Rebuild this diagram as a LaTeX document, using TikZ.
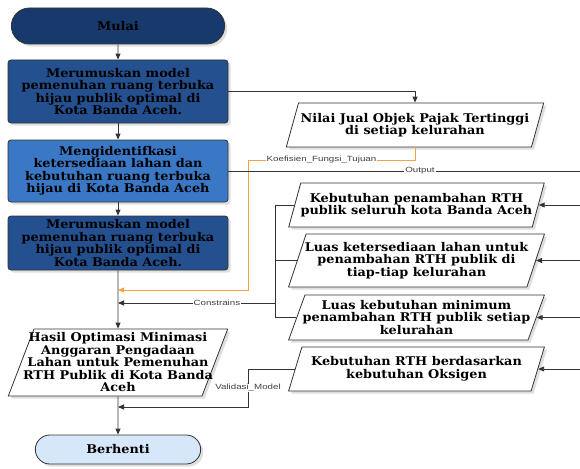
\documentclass[tikz,border=0pt]{standalone}
\usepackage{fontspec}
\setmainfont{DejaVu Serif}[FakeStretch=1.07]
\newfontfamily\lblfont{Liberation Sans}[FakeStretch=1.3]
\usetikzlibrary{shapes.geometric,shapes.misc,arrows.meta,shadows}

\definecolor{navy}{HTML}{17396B}
\definecolor{midblue}{HTML}{24508F}
\definecolor{lightblue}{HTML}{3A78C6}
\definecolor{paleblue}{HTML}{D6E7FA}
\definecolor{lineorange}{HTML}{F5A445}
\definecolor{edge}{HTML}{333333}

\tikzset{
  boxfont/.style={font=\bfseries\fontsize{12}{12.5}\selectfont},
  terminal/.style={rounded rectangle, draw=edge, line width=0.8pt, fill=navy, boxfont,
    minimum width=220pt, minimum height=36pt, drop shadow={opacity=0.25}},
  process/.style={rectangle, rounded corners=3pt, draw=edge, line width=0.8pt, boxfont,
    minimum width=220pt, align=center, inner sep=1pt, drop shadow={opacity=0.25}},
  data/.style={trapezium, trapezium left angle=68, trapezium right angle=112,
    trapezium stretches=true, draw=edge, line width=0.8pt, fill=white, boxfont,
    align=center, inner xsep=-14pt, inner ysep=1pt, drop shadow={opacity=0.25}},
  flow/.style={-{Triangle[length=6pt,width=5pt]}, line width=0.9pt, draw=edge},
  lbl/.style={fill=white, font=\lblfont\fontsize{7.5}{8}\selectfont, inner sep=1pt, text=black!75}
}

\begin{document}
\begin{tikzpicture}[x=1pt,y=-1pt]
    \useasboundingbox (0,0) rectangle (580,468);

    %alur utama kiri
    \node[terminal] (mulai) at (118,26) {Mulai};
    \node[process, fill=midblue, minimum height=63pt] (rumus1) at (118,91.5)
        {Merumuskan model\\pemenuhan ruang terbuka\\hijau publik optimal di\\Kota Banda Aceh.};
    \node[process, fill=lightblue, minimum height=62pt] (identifikasi) at (118,171)
        {Mengidentifkasi\\ketersediaan lahan dan\\kebutuhan ruang terbuka\\hijau di Kota Banda Aceh};
    \node[process, fill=midblue, minimum height=54pt] (rumus2) at (118,243)
        {Merumuskan model\\pemenuhan ruang terbuka\\hijau publik optimal di\\Kota Banda Aceh.};
    \node[data, minimum width=220pt, minimum height=67pt] (hasil) at (118,362.5)
        {Hasil Optimasi Minimasi\\Anggaran Pengadaan\\Lahan untuk Pemenuhan\\RTH Publik di Kota Banda\\Aceh};
    \node[terminal, fill=paleblue, minimum width=172pt, minimum height=29pt] (berhenti) at (118,449.5) {Berhenti};

    %data kanan
    \node[data, minimum width=258pt, minimum height=44pt] (nilai) at (415,125)
        {Nilai Jual Objek Pajak Tertinggi\\di setiap kelurahan};
    \node[data, minimum width=256pt, minimum height=44pt] (kp) at (416.5,205)
        {Kebutuhan penambahan RTH\\publik seluruh kota Banda Aceh};
    \node[data, minimum width=256pt, minimum height=53pt] (lk) at (416.5,260.5)
        {Luas ketersediaan lahan untuk\\penambahan RTH publik di\\tiap-tiap kelurahan};
    \node[data, minimum width=256pt, minimum height=45pt] (lm) at (416.5,317.5)
        {Luas kebutuhan minimum\\penambahan RTH publik setiap\\kelurahan};
    \node[data, minimum width=256pt, minimum height=44pt] (ok) at (416.5,369)
        {Kebutuhan RTH berdasarkan\\kebutuhan Oksigen};

    %titik bantu
    \coordinate (rgt) at (580,0);
    \coordinate (bx) at (275,0);
    \coordinate (vx) at (248,0);
    \coordinate (oy) at (248,160);
    \coordinate (j1) at (118,290);
    \coordinate (j2) at (118,303);
    \coordinate (j3) at (118,407);

    %panah utama
    \draw[flow] (mulai) -- (rumus1);
    \draw[flow] (rumus1) -- (identifikasi);
    \draw[flow] (identifikasi) -- (rumus2);
    \draw[flow] (rumus2) -- (hasil);
    \draw[flow] (hasil) -- (berhenti);

    %ke nilai jual dan kembali
    \draw[flow] (rumus1.east) -| (nilai.north);
    \draw[flow, draw=lineorange, line width=0.8pt] (nilai.south) |- (oy)
        node[lbl, pos=0.78] {Koefisien\_Fungsi\_Tujuan} |- (j1);

    %output
    \draw[line width=0.9pt, draw=edge] (identifikasi.east) -- (identifikasi.east -| rgt)
        node[lbl, pos=0.545] {Output};

    %masukan dari kanan
    \foreach \n in {kp, lk, lm, ok}
        \draw[flow] (\n.east -| rgt) -- (\n.east);

    %constrains
    \draw[line width=0.9pt, draw=edge] (kp.west) -- (kp.west -| bx) -- (lm.west -| bx) -- (lm.west);
    \draw[line width=0.9pt, draw=edge] (lk.west) -- (lk.west -| bx);
    \draw[flow] (bx |- j2) -- node[lbl, pos=0.37] {Constrains} (j2);

    %validasi
    \draw[flow] (ok.west) -- (ok.west -| vx) -- node[lbl] {Validasi\_Model} (vx |- j3) -- (j3);

\end{tikzpicture}
\end{document}
